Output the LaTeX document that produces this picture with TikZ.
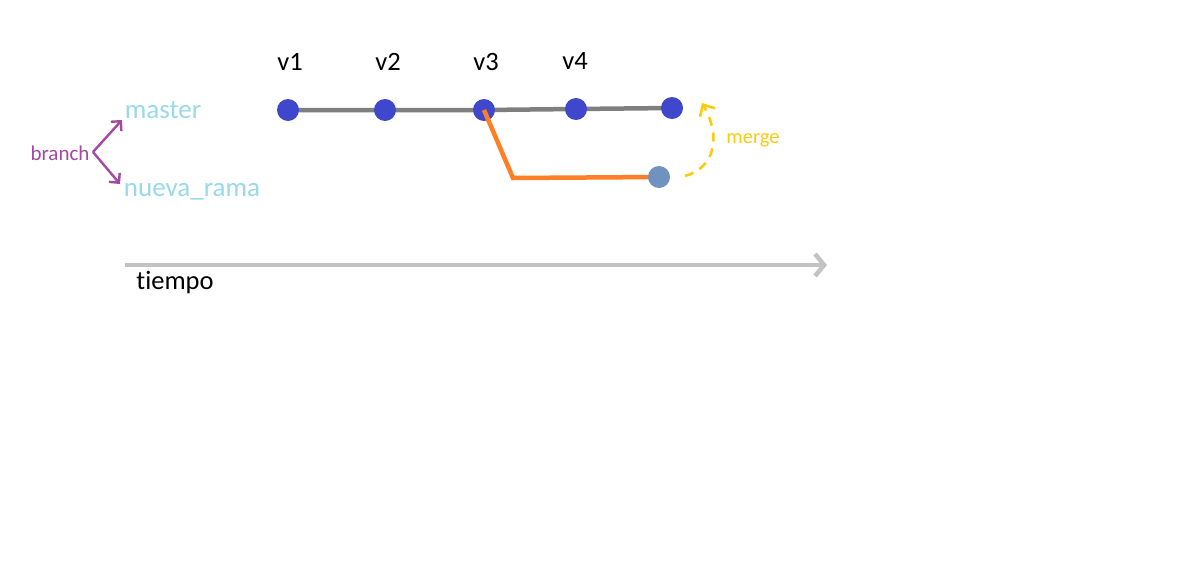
\documentclass[tikz,border=0pt]{standalone}
\usepackage{fontspec}
\setmainfont[Ligatures=NoCommon]{Carlito}
\usetikzlibrary{arrows.meta}
\definecolor{commit}{RGB}{63,72,204}
\definecolor{branchc}{RGB}{112,146,190}
\definecolor{lineg}{RGB}{127,127,127}
\definecolor{orng}{RGB}{255,127,39}
\definecolor{ylw}{RGB}{255,201,14}
\definecolor{lblue}{RGB}{153,217,234}
\definecolor{purp}{RGB}{163,73,164}
\definecolor{timeg}{RGB}{195,195,195}
\begin{document}
\begin{tikzpicture}[x=1pt,y=-1pt,
  commitnode/.style={circle,fill=commit,minimum size=22pt,inner sep=0pt},
  branchnode/.style={circle,fill=branchc,minimum size=22pt,inner sep=0pt},
  vlabel/.style={font=\fontsize{26.5}{30}\selectfont,text=black},
  blabel/.style={font=\fontsize{27}{31}\selectfont,text=lblue},
  openarrow/.style={-{Straight Barb[length=7pt,width=14pt]}}
]
\useasboundingbox (0,0) rectangle (1187,565);
\fill[white] (0,0) rectangle (1187,565);
% commits
\coordinate (p1) at (288,110);
\coordinate (p2) at (385,110);
\coordinate (p3) at (484,110);
\coordinate (p4) at (576,109);
\coordinate (p5) at (672,108);
\coordinate (pb) at (659,177);
\coordinate (bend) at (513,178);
\draw[lineg,line width=4.5pt] (p1) -- (p2) -- (p3) -- (p4) -- (p5);
\node[commitnode] (c1) at (p1) {};
\node[commitnode] (c2) at (p2) {};
\node[commitnode] (c3) at (p3) {};
\node[commitnode] (c4) at (p4) {};
\node[commitnode] (c5) at (p5) {};
\draw[orng,line width=4.5pt] (c3.center) -- (bend) -- (pb);
\node[branchnode] (b1) at (pb) {};
% labels
\node[vlabel] (l1) at (290,62) {v1};
\node[vlabel] (l2) at (388,62) {v2};
\node[vlabel] (l3) at (486,62) {v3};
\node[vlabel] (l4) at (575,61) {v4};
% merge
\coordinate (m0) at (685,176);
\coordinate (m1) at (702,103);
\draw[ylw,line width=2.6pt,dash pattern=on 9pt off 7pt,-{Straight Barb[length=9pt,width=17pt]}] (m0) .. controls (714,168) and (722,138) .. (m1);
\node[font=\fontsize{20.5}{24}\selectfont,text=ylw] (mg) at (753,140) {merge};
% branch labels
\node[blabel] (master) at (163,110) {master};
\node[blabel,anchor=base] (nueva) at (192,196) {nueva\_rama};
\node[font=\fontsize{21}{25}\selectfont,text=purp] (br) at (60,153) {branch};
\coordinate (bp) at (93,152);
\draw[purp,line width=2.4pt,openarrow] (bp) -- (122,120);
\draw[purp,line width=2.4pt,openarrow] (bp) -- (120,184);
% time
\coordinate (t0) at (125,265);
\coordinate (t1) at (827,265);
\draw[timeg,line width=4.5pt,-{Straight Barb[length=9pt,width=22pt]}] (t0) -- (t1);
\node[vlabel] (tiempo) at (175,283) {tiempo};
\end{tikzpicture}
\end{document}
